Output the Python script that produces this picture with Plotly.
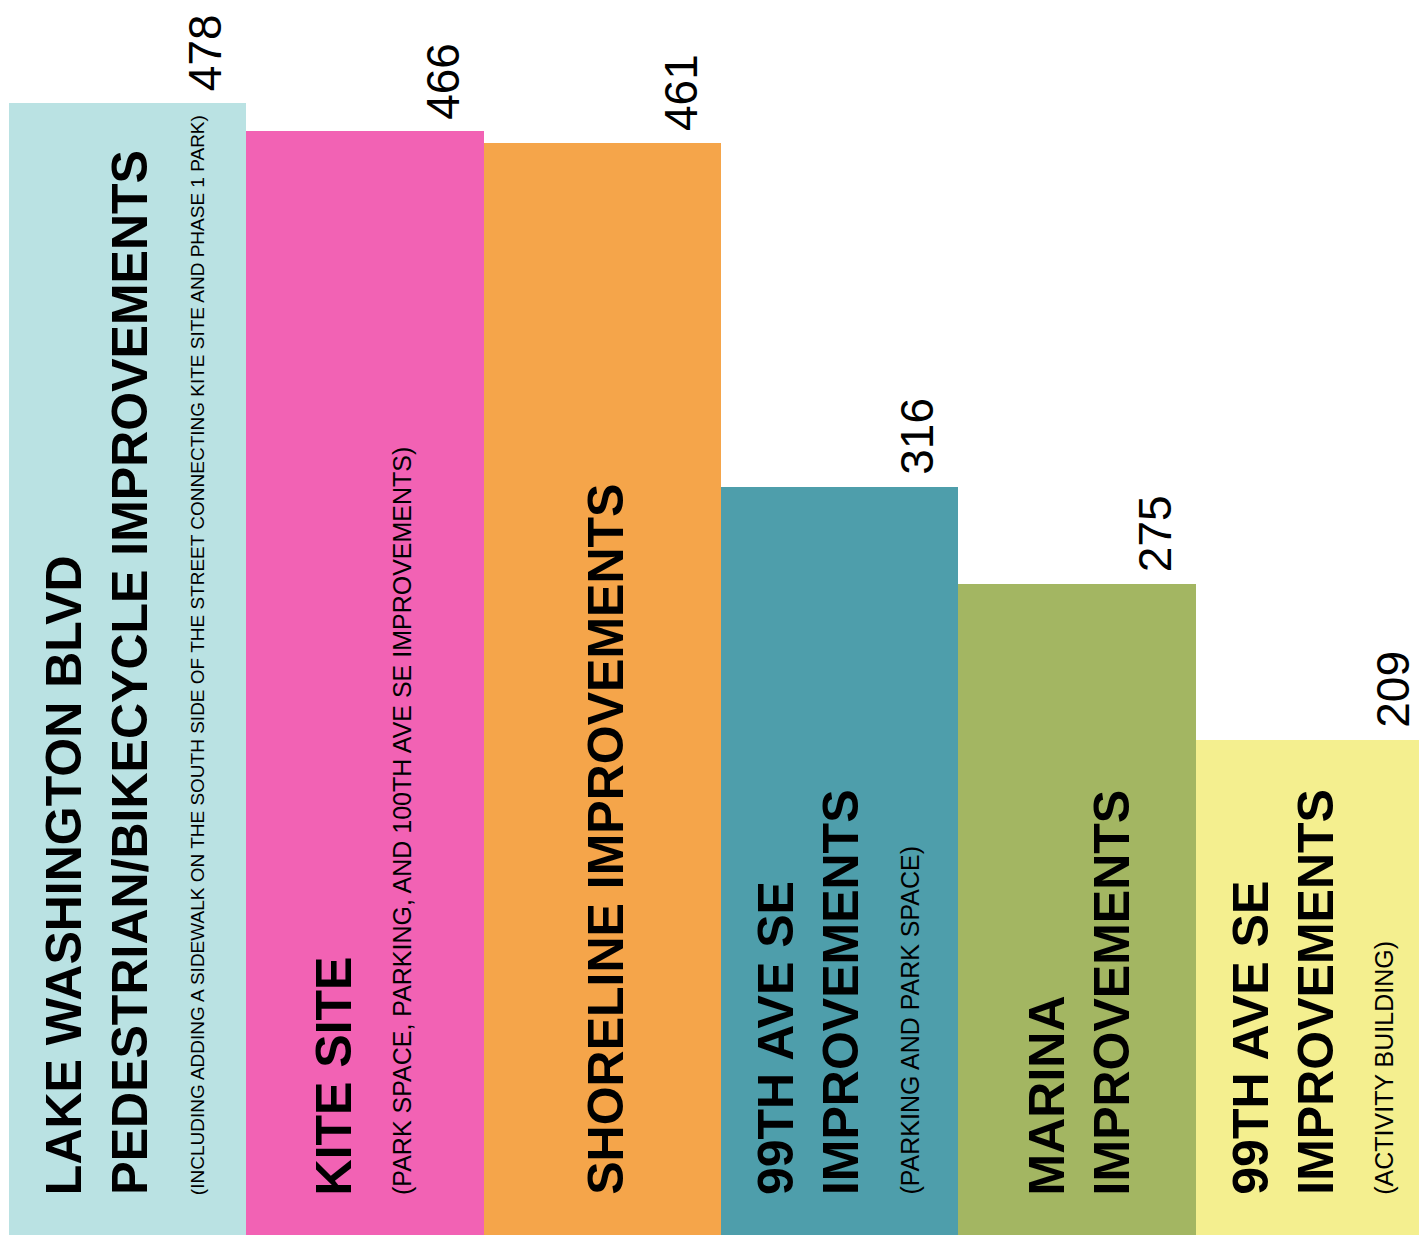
import plotly.graph_objects as go

# project categories, read left to right on the image
projects = [
    "Lake Washington Blvd",
    "Kite Site",
    "Shoreline Improvements",
    "99th Ave SE (parking)",
    "Marina Improvements",
    "99th Ave SE (activity building)",
]
votes = [478, 466, 461, 316, 275, 209]

title_lines = [
    ["LAKE WASHINGTON BLVD", "PEDESTRIAN/BIKECYCLE IMPROVEMENTS"],
    ["KITE SITE"],
    ["SHORELINE IMPROVEMENTS"],
    ["99TH AVE SE", "IMPROVEMENTS"],
    ["MARINA", "IMPROVEMENTS"],
    ["99TH AVE SE", "IMPROVEMENTS"],
]
notes = [
    "(INCLUDING ADDING A SIDEWALK ON THE SOUTH SIDE OF THE STREET CONNECTING KITE SITE AND PHASE 1 PARK)",
    "(PARK SPACE, PARKING, AND 100TH AVE SE IMPROVEMENTS)",
    "",
    "(PARKING AND PARK SPACE)",
    "",
    "(ACTIVITY BUILDING)",
]

colors = ["#BAE2E3", "#F262B4", "#F5A54A", "#4E9EAB", "#A3B662", "#F4EF8F"]

BIG = dict(family="Liberation Sans, Arial, sans-serif", size=50, color="black", weight="bold")
SMALL = dict(family="Liberation Sans, Arial, sans-serif", size=25, color="black")
NUM = dict(family="Liberation Sans, Arial, sans-serif", size=46, color="black")

fig = go.Figure()
fig.add_trace(go.Bar(
    x=list(range(len(projects))),
    y=votes,
    marker=dict(color=colors, line=dict(width=0)),
    hoverinfo="text",
    hovertext=projects,
))

annotations = []
for i, v in enumerate(votes):
    # value label, rotated, near the right edge above the bar
    annotations.append(dict(
        x=i, y=v, xref="x", yref="y", text=str(v), showarrow=False,
        textangle=-90, font=NUM, xanchor="center", yanchor="bottom",
        xshift=78, yshift=10,
    ))

    # stacked rotated lines inside the bar
    lines = [(t, "big") for t in title_lines[i]]
    if notes[i]:
        lines.append((notes[i], "small"))
    pos = [0]
    for k in range(1, len(lines)):
        pos.append(pos[-1] + (65 if lines[k][1] == "big" else 68))
    mid = (pos[0] + pos[-1]) / 2
    for (txt, kind), p in zip(lines, pos):
        f = dict(BIG) if kind == "big" else dict(SMALL)
        if kind == "small" and len(txt) > 60:
            f["size"] = 19
        annotations.append(dict(
            x=i, y=0, xref="x", yref="y", text=txt, showarrow=False,
            textangle=-90, font=f, xanchor="center", yanchor="bottom",
            align="left", xshift=p - mid + 3, yshift=38,
        ))

# the page body adds 8px around the figure; last bar runs off the right edge
fig.update_layout(
    width=1427, height=1232,
    margin=dict(l=1, r=0, t=0, b=5),
    paper_bgcolor="white", plot_bgcolor="white",
    bargap=0, showlegend=False,
    xaxis=dict(visible=False, range=[-0.5, 5.509]),
    yaxis=dict(visible=False, range=[0, 518.1]),
    annotations=annotations,
)

fig.write_html("out.html")
